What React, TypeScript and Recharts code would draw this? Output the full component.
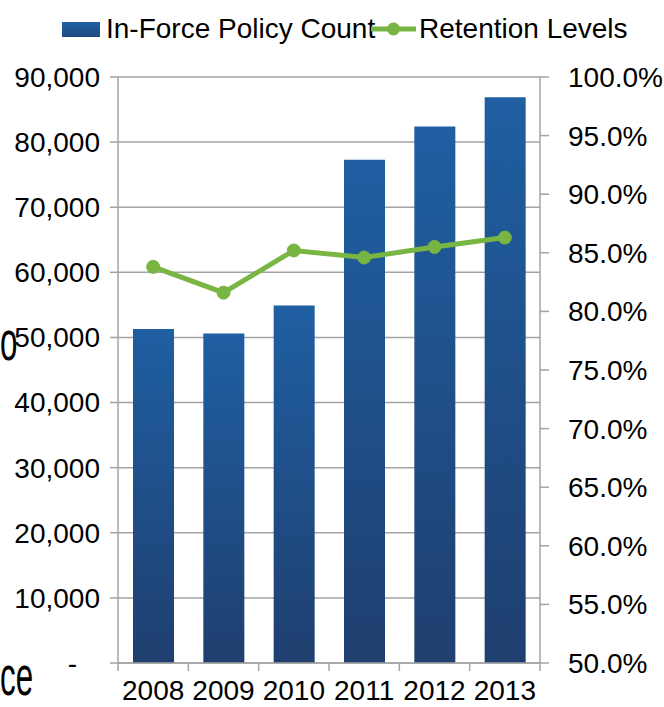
import React from 'react';
import { ComposedChart, Bar, Line, XAxis, YAxis, CartesianGrid } from 'recharts';

const years = ['2008', '2009', '2010', '2011', '2012', '2013'];
const policyCounts = [51300, 50600, 54900, 77300, 82400, 86900];
const retentionLevels = [0.838, 0.816, 0.852, 0.846, 0.855, 0.863];
const countTicks = [0, 10000, 20000, 30000, 40000, 50000, 60000, 70000, 80000, 90000];
const retentionTicks = [0.5, 0.55, 0.6, 0.65, 0.7, 0.75, 0.8, 0.85, 0.9, 0.95, 1.0];

const data = years.map((year, i) => ({
  year,
  count: policyCounts[i],
  retention: retentionLevels[i],
}));

const FONT = '"Liberation Sans", Arial, sans-serif';
const W = 664;
const H = 707;
const LEFT_W = 118;
const RIGHT_W = 124;
const TOP = 77;
const X_AXIS_H = 44;
const AXIS_Y = H - X_AXIS_H;
const HALF_BAND = (W - LEFT_W - RIGHT_W) / years.length / 2;
const GREY = '#a3a3a3';
const GREEN = '#78b543';

const fmtCount = (v: number) => (v === 0 ? '-' : v.toLocaleString('en-US'));
const fmtPct = (v: number) => (v * 100).toFixed(1) + '%';

const LeftTick = ({ x, y, payload }: any) => (
  <text
    x={payload.value === 0 ? x - 23 : x}
    y={y}
    dy="0.355em"
    textAnchor="end"
    fontSize={28}
    fontFamily={FONT}
    fill="#000"
  >
    {fmtCount(payload.value)}
  </text>
);

const YearTick = ({ x, y, payload, index }: any) => (
  <g>
    <line x1={x - HALF_BAND} x2={x - HALF_BAND} y1={AXIS_Y} y2={AXIS_Y + 8} stroke={GREY} strokeWidth={1.5} />
    {index === years.length - 1 && (
      <line x1={x + HALF_BAND} x2={x + HALF_BAND} y1={AXIS_Y} y2={AXIS_Y + 8} stroke={GREY} strokeWidth={1.5} />
    )}
    <text x={x} y={y} dy="0.71em" textAnchor="middle" fontSize={28} fontFamily={FONT} fill="#000">
      {payload.value}
    </text>
  </g>
);

const stray: React.CSSProperties = {
  position: 'absolute',
  fontFamily: FONT,
  fontSize: 56,
  lineHeight: '56px',
  color: '#000',
  transform: 'scaleX(0.56)',
  transformOrigin: 'left top',
  whiteSpace: 'nowrap',
};

const legendText: React.CSSProperties = {
  position: 'absolute',
  top: 14,
  fontFamily: FONT,
  fontSize: 28,
  lineHeight: '30px',
  color: '#000',
  whiteSpace: 'nowrap',
};

export default function App() {
  return (
    <div style={{ position: 'absolute', left: 0, top: 0, width: W, height: H, background: '#fff', overflow: 'hidden' }}>
      <div style={{ ...stray, left: 0, top: 313 }}>o</div>
      <div style={{ ...stray, left: 0, top: 648 }}>ce</div>

      <div
        style={{
          position: 'absolute',
          left: 62,
          top: 22,
          width: 38,
          height: 15,
          background: 'linear-gradient(#1f5fa2, #1f4a80)',
        }}
      />
      <div style={{ ...legendText, left: 106 }}>In-Force Policy Count</div>
      <svg style={{ position: 'absolute', left: 371, top: 21 }} width={45} height={16}>
        <line x1={0} x2={45} y1={8} y2={8} stroke={GREEN} strokeWidth={5} />
        <circle cx={22.5} cy={8} r={6.5} fill={GREEN} />
      </svg>
      <div style={{ ...legendText, left: 419 }}>Retention Levels</div>

      <ComposedChart width={W} height={H} data={data} margin={{ top: TOP, right: 0, bottom: 0, left: 0 }}>
        <defs>
          <linearGradient id="barFill" x1="0" y1="0" x2="0" y2="1">
            <stop offset="0%" stopColor="#1f5fa2" />
            <stop offset="100%" stopColor="#1f3f6f" />
          </linearGradient>
        </defs>
        <CartesianGrid yAxisId="left" vertical={false} stroke={GREY} strokeWidth={1.5} />
        <XAxis
          dataKey="year"
          height={X_AXIS_H}
          axisLine={{ stroke: GREY, strokeWidth: 1.5 }}
          tickLine={false}
          tickSize={8}
          tickMargin={9}
          tick={<YearTick />}
          interval={0}
        />
        <YAxis
          yAxisId="left"
          width={LEFT_W}
          domain={[0, 90000]}
          ticks={countTicks}
          interval={0}
          axisLine={{ stroke: GREY, strokeWidth: 1.5 }}
          tickLine={{ stroke: GREY, strokeWidth: 1.5 }}
          tickSize={8}
          tickMargin={10}
          tick={<LeftTick />}
        />
        <YAxis
          yAxisId="right"
          orientation="right"
          width={RIGHT_W}
          domain={[0.5, 1.0]}
          ticks={retentionTicks}
          interval={0}
          tickFormatter={fmtPct}
          axisLine={{ stroke: GREY, strokeWidth: 1.5 }}
          tickLine={{ stroke: GREY, strokeWidth: 1.5 }}
          tickSize={9}
          tickMargin={19}
          tick={{ fontSize: 28, fontFamily: FONT, fill: '#000' }}
        />
        <Bar yAxisId="left" dataKey="count" fill="url(#barFill)" barSize={41} isAnimationActive={false} />
        <Line
          yAxisId="right"
          type="linear"
          dataKey="retention"
          stroke={GREEN}
          strokeWidth={5}
          dot={{ r: 6.5, fill: GREEN, stroke: GREEN, strokeWidth: 1 }}
          activeDot={false}
          isAnimationActive={false}
        />
      </ComposedChart>
    </div>
  );
}
